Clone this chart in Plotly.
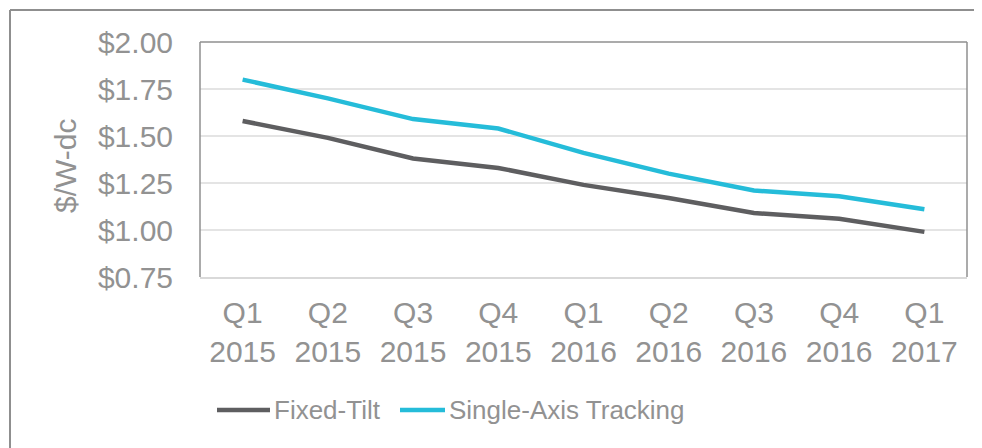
import plotly.graph_objects as go

categories = ["Q1<br>2015", "Q2<br>2015", "Q3<br>2015", "Q4<br>2015", "Q1<br>2016",
              "Q2<br>2016", "Q3<br>2016", "Q4<br>2016", "Q1<br>2017"]
fixed_tilt = [1.58, 1.49, 1.38, 1.33, 1.24, 1.17, 1.09, 1.06, 0.99]
single_axis = [1.80, 1.70, 1.59, 1.54, 1.41, 1.30, 1.21, 1.18, 1.11]
series_names = ["Fixed-Tilt", "Single-Axis Tracking"]
y_ticks = [0.75, 1.00, 1.25, 1.50, 1.75, 2.00]
y_tick_labels = ["$0.75", "$1.00", "$1.25", "$1.50", "$1.75", "$2.00"]

COL_FT = "#5e5e60"
COL_SA = "#25bcd9"
TXT = "#929292"
FONT = "Liberation Sans, Arial, sans-serif"

# page has an 8px body margin; figure sized to fit the 982x448 window
OFF = 8
W, H = 982 - OFF, 448 - OFF
L, R, T, B = 200 - OFF, 15, 42 - OFF, 171
PW, PH = W - L - R, H - T - B


def px(x):  # page pixel x -> paper
    return (x - OFF - L) / PW


def py(y):  # page pixel y -> paper
    return (H - B - (y - OFF)) / PH


fig = go.Figure()
for name, vals, col in [(series_names[0], fixed_tilt, COL_FT), (series_names[1], single_axis, COL_SA)]:
    fig.add_trace(go.Scatter(x=categories, y=vals, mode="lines", name=name,
                             line=dict(color=col, width=4.5), showlegend=False))

shapes = []
frame_col = "#8f8f8f"
# plot-area frame (left, top, right)
shapes.append(dict(type="line", xref="paper", yref="paper", x0=0, x1=0, y0=0, y1=1,
                   line=dict(color=frame_col, width=1.5)))
shapes.append(dict(type="line", xref="paper", yref="paper", x0=0, x1=1, y0=1, y1=1,
                   line=dict(color=frame_col, width=1.5)))
shapes.append(dict(type="line", xref="paper", yref="paper", x0=1, x1=1, y0=0, y1=1,
                   line=dict(color=frame_col, width=1.5)))
# outer chart border (left, top)
shapes.append(dict(type="line", xref="paper", yref="paper", x0=px(10), x1=px(10), y0=py(10), y1=py(470),
                   line=dict(color=frame_col, width=2)))
shapes.append(dict(type="line", xref="paper", yref="paper", x0=px(10), x1=px(1000), y0=py(10), y1=py(10),
                   line=dict(color=frame_col, width=2)))

# custom legend
annotations = []
leg_items = [(series_names[0], COL_FT, 217, 270), (series_names[1], COL_SA, 400, 445)]
for name, col, x0, x1 in leg_items:
    shapes.append(dict(type="line", xref="paper", yref="paper", x0=px(x0), x1=px(x1), y0=py(410), y1=py(410),
                       line=dict(color=col, width=4.5)))
    annotations.append(dict(text=name, xref="paper", yref="paper", x=px(x1 + 2), y=py(410),
                            xanchor="left", yanchor="middle", showarrow=False,
                            font=dict(family=FONT, size=26, color=TXT)))

annotations.append(dict(text="$/W-dc", xref="paper", yref="paper", x=px(65), y=py(166),
                        xanchor="center", yanchor="middle", textangle=-90, showarrow=False,
                        font=dict(family=FONT, size=30, color=TXT)))

fig.update_layout(
    width=W, height=H,
    margin=dict(l=L, r=R, t=T, b=B, autoexpand=False),
    paper_bgcolor="white", plot_bgcolor="white",
    shapes=shapes, annotations=annotations,
    showlegend=False,
    font=dict(family=FONT, color=TXT),
)
fig.update_xaxes(type="category", range=[-0.5, 8.5], showgrid=False, showline=True,
                 linecolor="#d9d9d9", linewidth=2, ticks="", ticklabelstandoff=8,
                 tickfont=dict(family=FONT, size=30, color=TXT), fixedrange=True)
fig.update_yaxes(range=[0.75, 2.0], tickvals=y_ticks, ticktext=y_tick_labels,
                 showgrid=True, gridcolor="#e4e4e4", gridwidth=1.5, zeroline=False,
                 showline=False, ticks="", ticklabelstandoff=26,
                 tickfont=dict(family=FONT, size=30, color=TXT), fixedrange=True)

fig.write_html("out.html")
